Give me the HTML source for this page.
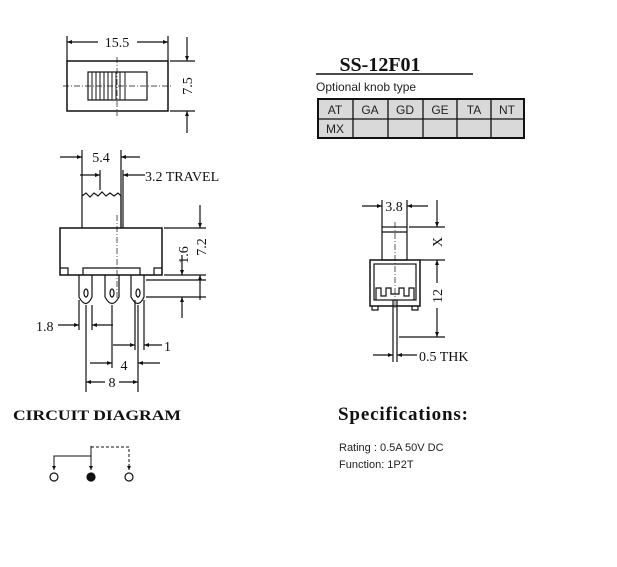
<!DOCTYPE html>
<html><head><style>
html,body{margin:0;padding:0;background:#fff;}
svg{display:block}
.s{font-family:"Liberation Serif",serif;fill:#111}
.a{font-family:"Liberation Sans",sans-serif;fill:#222}
</style></head><body>
<svg width="617" height="567" viewBox="0 0 617 567" xmlns="http://www.w3.org/2000/svg">
<defs>
<marker id="ar" viewBox="0 0 10 10" refX="10" refY="5" markerWidth="7" markerHeight="5" orient="auto-start-reverse" markerUnits="userSpaceOnUse"><path d="M0,1 L10,5 L0,9 z" fill="#111"/></marker>
<marker id="sm" viewBox="0 0 10 10" refX="10" refY="5" markerWidth="5" markerHeight="4" orient="auto" markerUnits="userSpaceOnUse"><path d="M0,0 L10,5 L0,10 z" fill="#111"/></marker>
</defs>
<g stroke="#111" fill="none" stroke-width="1.2">
<!-- top view -->
<rect x="67" y="61" width="101" height="50" stroke-width="1.5"/>
<rect x="88" y="72" width="59" height="28"/>
<path d="M92 72V100M96 72V100M100 72V100M104 72V100M108 72V100M112 72V100M116 72V100M120 72V100M125 72V100" stroke-width="1"/>
<path d="M63 86H172M117 57V116" stroke-width="0.7" stroke-dasharray="6 2 1 2"/>
<path d="M67 36V61M168 36V61"/>
<path d="M98 42H67" marker-end="url(#ar)"/><path d="M137 42H168" marker-end="url(#ar)"/>
<path d="M170 61H195M170 111H195"/>
<path d="M187 37V61" marker-end="url(#ar)"/><path d="M187 133V111" marker-end="url(#ar)"/>
<!-- side view -->
<path d="M82 228V196 L86 193 L90 197 L94 193 L98 196 L102 192 L106 196 L110 193 L114 196 L118 193 L121 196 V228"/>
<rect x="60" y="228" width="102" height="47" stroke-width="1.5"/>
<path d="M60 268H68V275M162 268H154V275M83 275V268H140V275"/>
<path d="M117 215V300" stroke-width="0.7" stroke-dasharray="6 2 1 2"/>
<path d="M79 275V297Q86 310 92 297V275M105 275V297Q112 310 119 297V275M131 275V297Q138 310 144 297V275"/>
<ellipse cx="86" cy="293" rx="2" ry="4"/><ellipse cx="112" cy="293" rx="2" ry="4"/><ellipse cx="138" cy="293" rx="2" ry="4"/>
<path d="M79 300V330M92 305V330M86 305V392M112 305V368M135 300V350M138 305V392M144 300V350"/>
<path d="M82 150V196M121 150V228M100 170V190M123 170V228"/>
<path d="M60 157H82" marker-end="url(#ar)"/><path d="M140 157H121" marker-end="url(#ar)"/>
<path d="M80 175H100" marker-end="url(#ar)"/><path d="M145 175H123" marker-end="url(#ar)"/>
<path d="M164 228H206M164 275H206M146 280H206M146 297H206"/>
<path d="M200 205V228" marker-end="url(#ar)"/><path d="M200 300V275" marker-end="url(#ar)"/>
<path d="M182 255V275" marker-end="url(#ar)"/><path d="M182 318V297" marker-end="url(#ar)"/>
<path d="M58 325H79" marker-end="url(#ar)"/><path d="M113 325H92" marker-end="url(#ar)"/>
<path d="M113 345H135" marker-end="url(#ar)"/><path d="M162 345H144" marker-end="url(#ar)"/>
<path d="M90 363H112" marker-end="url(#ar)"/><path d="M160 363H138" marker-end="url(#ar)"/>
<path d="M105 382H86" marker-end="url(#ar)"/><path d="M119 382H138" marker-end="url(#ar)"/>
<!-- right view -->
<rect x="382" y="227" width="25" height="33"/>
<path d="M382 232H407"/>
<rect x="370" y="260" width="50" height="46" stroke-width="1.5"/>
<rect x="374" y="264" width="42" height="36"/>
<path d="M376 300V288H381V296H386V288H391V294H399V288H404V296H409V288H414V300"/>
<path d="M372 306V310H378V306M412 306V310H418V306"/>
<path d="M393 300V337M397 300V337"/>
<path d="M395 222V310" stroke-width="0.7" stroke-dasharray="6 2 1 2"/>
<path d="M382 200V227M407 200V227M393 337V362M397 337V362"/>
<path d="M362 206H382" marker-end="url(#ar)"/><path d="M428 206H407" marker-end="url(#ar)"/>
<path d="M409 227H445M420 260H445M399 337H445"/>
<path d="M437 200V227" marker-end="url(#ar)"/>
<path d="M437 283V260" marker-end="url(#ar)"/><path d="M437 308V337" marker-end="url(#ar)"/>
<path d="M373 355H393" marker-end="url(#ar)"/><path d="M417 355H397" marker-end="url(#ar)"/>
<!-- title underline -->
<path d="M316 74H473" stroke-width="1.5"/>
<!-- table -->
<rect x="318" y="99" width="206" height="39" fill="#d9d9d9" stroke-width="2"/>
<path d="M318 119H524M353 99V138M388 99V138M423 99V138M457 99V138M491 99V138" stroke-width="1.3"/>
<!-- circuit -->
<path d="M54 470V456H91M91 446V470" stroke-width="1" marker-end="url(#sm)"/>
<path d="M54 456V470" stroke-width="1" marker-end="url(#sm)"/>
<path d="M91 447H129V470" stroke-width="1" stroke-dasharray="3 2" marker-end="url(#sm)"/>
<circle cx="54" cy="477" r="4"/><circle cx="91" cy="477" r="4" fill="#111"/><circle cx="129" cy="477" r="4"/>
</g>
<g class="s" font-size="14">
<text x="117" y="47" text-anchor="middle" fill="#fff" stroke="#fff" stroke-width="4">15.5</text>
<text x="117" y="47" text-anchor="middle">15.5</text>
<text transform="translate(192,86) rotate(-90)" text-anchor="middle">7.5</text>
<text x="101" y="162" text-anchor="middle">5.4</text>
<text x="145" y="181">3.2 TRAVEL</text>
<text transform="translate(188,255) rotate(-90)" text-anchor="middle">1.6</text>
<text transform="translate(206,247) rotate(-90)" text-anchor="middle">7.2</text>
<text x="36" y="331">1.8</text>
<text x="164" y="351">1</text>
<text x="124" y="370" text-anchor="middle">4</text>
<text x="112" y="387" text-anchor="middle">8</text>
<text x="394" y="211" text-anchor="middle">3.8</text>
<text transform="translate(442,242) rotate(-90)" text-anchor="middle">X</text>
<text transform="translate(442,296) rotate(-90)" text-anchor="middle">12</text>
<text x="419" y="361">0.5 THK</text>
<text x="380" y="71" text-anchor="middle" font-size="20" font-weight="bold">SS-12F01</text>
<text x="13" y="420" font-size="15" font-weight="bold" textLength="168" lengthAdjust="spacingAndGlyphs">CIRCUIT DIAGRAM</text>
<text x="338" y="420" font-size="19" font-weight="bold" textLength="130" lengthAdjust="spacing">Specifications:</text>
</g>
<g class="a" font-size="12">
<text x="316" y="91">Optional knob type</text>
<text x="335" y="114" text-anchor="middle">AT</text><text x="370" y="114" text-anchor="middle">GA</text>
<text x="405" y="114" text-anchor="middle">GD</text><text x="440" y="114" text-anchor="middle">GE</text>
<text x="474" y="114" text-anchor="middle">TA</text><text x="507" y="114" text-anchor="middle">NT</text>
<text x="335" y="133" text-anchor="middle">MX</text>
<text x="339" y="451" font-size="11">Rating : 0.5A 50V DC</text>
<text x="339" y="468" font-size="11">Function: 1P2T</text>
</g>
</svg>
</body></html>
